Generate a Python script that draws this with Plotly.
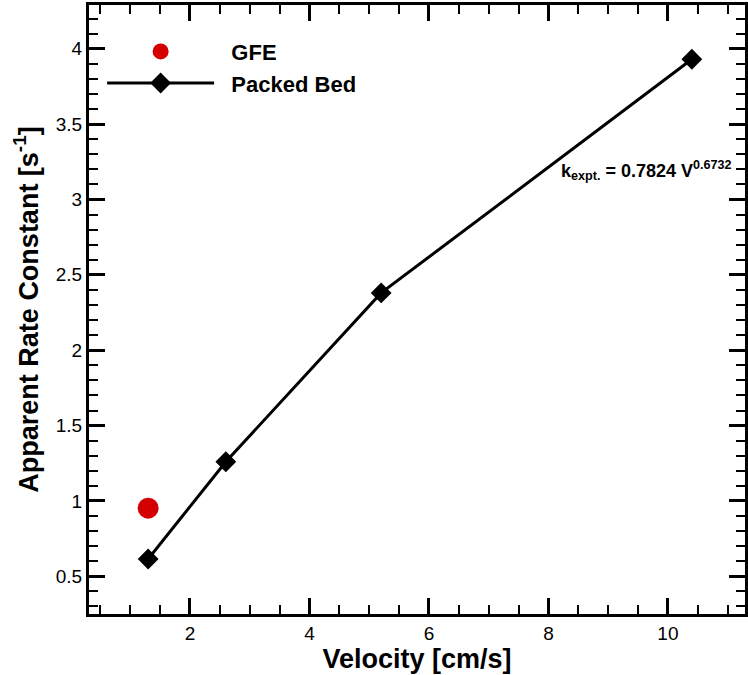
import plotly.graph_objects as go

velocity_pb = [1.3, 2.6, 5.2, 10.4]
rate_pb = [0.615, 1.26, 2.38, 3.93]
velocity_gfe = [1.3]
rate_gfe = [0.952]

FONT = "Liberation Sans, Arial, sans-serif"

fig = go.Figure()
fig.add_trace(go.Scatter(
    x=velocity_gfe, y=rate_gfe, mode="markers", name="&nbsp;&nbsp;<b>GFE</b>",
    marker=dict(symbol="circle", size=21, color="#d40000"),
))
fig.add_trace(go.Scatter(
    x=velocity_pb, y=rate_pb, mode="lines+markers", name="&nbsp;&nbsp;<b>Packed Bed</b>",
    line=dict(color="black", width=3),
    marker=dict(symbol="diamond", size=16, color="black"),
))

fig.add_annotation(
    x=8.18, y=3.19, xref="x", yref="y", xanchor="left", yanchor="middle",
    text="<b>k<sub>expt.</sub> = 0.7824 V<sup>0.6732</sup></b>",
    showarrow=False, font=dict(family=FONT, size=18, color="black"),
)

axis_common = dict(
    showline=True, linecolor="black", linewidth=3, mirror="allticks",
    ticks="inside", ticklen=16, tickwidth=3, tickcolor="black",
    showgrid=False, zeroline=False,
    tickfont=dict(family=FONT, size=19, color="black"),
)

fig.update_xaxes(
    range=[0.31, 11.29], dtick=2, tick0=0,
    minor=dict(dtick=0.5, ticks="inside", ticklen=9, tickwidth=1.5, tickcolor="black"),
    title=dict(text="<b>Velocity [cm/s]</b>", font=dict(family=FONT, size=27, color="black"), standoff=4),
    **axis_common,
)
fig.update_yaxes(
    range=[0.25, 4.29], dtick=0.5, tick0=0,
    minor=dict(dtick=0.1, ticks="inside", ticklen=9, tickwidth=1.5, tickcolor="black"),
    title=dict(text="<b>Apparent Rate Constant [s<sup>-1</sup>]</b>", font=dict(family=FONT, size=27, color="black"), standoff=10),
    **axis_common,
)

fig.update_layout(
    width=748, height=675,
    margin=dict(l=89, r=0, t=5, b=61),
    paper_bgcolor="white", plot_bgcolor="white",
    showlegend=True,
    legend=dict(
        x=0.02, y=0.958, xanchor="left", yanchor="top",
        bgcolor="rgba(0,0,0,0)", itemwidth=107,
        font=dict(family=FONT, size=22, color="black"),
        tracegroupgap=0,
    ),
)

fig.write_html("out.html")
